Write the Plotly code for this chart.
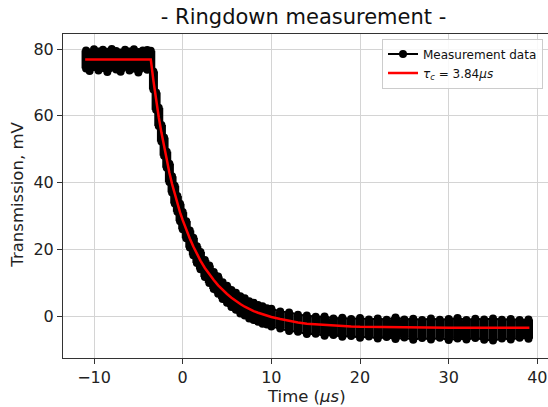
import plotly.graph_objects as go

# ---- data ----
# measurement band: upper / lower envelope of the noisy data (mV) vs time (us)
t_meas = [-10.9, -10.5, -10.0, -9.5, -9.0, -8.5, -8.0, -7.5, -7.0, -6.5, -6.0, -5.5,
          -5.0, -4.5, -4.0, -3.6, -3.3, -3.0, -2.7, -2.4, -2.1, -1.8, -1.5, -1.2,
          -0.9, -0.6, -0.3, 0.0, 0.4, 0.8, 1.2, 1.6, 2.0, 2.5, 3.0, 3.5, 4.0, 4.5,
          5.0, 5.5, 6.0, 6.5, 7.0, 7.5, 8.0, 8.5, 9.0, 9.5, 10, 11, 12, 13, 14, 15,
          16, 17, 18, 19, 20, 21, 22, 23, 24, 25, 26, 27, 28, 29, 30, 31, 32, 33,
          34, 35, 36, 37, 38, 39]
meas_upper = [79.6, 79.0, 79.9, 79.3, 79.8, 79.2, 80.0, 79.4, 79.0, 79.8, 79.3, 79.9,
              79.1, 79.6, 79.7, 79.5, 73.3, 67.0, 62.4, 57.3, 53.5, 49.3, 45.7, 41.9,
              39.1, 36.0, 33.7, 31.2, 28.5, 25.7, 23.5, 21.0, 19.3, 16.9, 15.2, 13.3,
              11.9, 10.2, 9.2, 7.9, 7.1, 6.0, 5.4, 4.5, 4.1, 3.4, 3.0, 2.4, 2.3, 1.5,
              1.2, 0.5, 0.3, -0.1, 0.0, -0.6, -0.4, -0.8, -0.5, -0.9, -0.6, -1.0, -0.3,
              -0.9, -0.7, -1.1, -0.6, -1.0, -0.8, -0.5, -1.1, -0.7, -0.9, -0.6, -1.0,
              -0.8, -1.1, -0.9]
meas_lower = [74.2, 73.4, 74.6, 73.6, 74.3, 73.1, 74.5, 73.9, 73.2, 74.7, 73.6, 74.2,
              73.0, 74.4, 73.8, 74.1, 67.9, 61.8, 57.0, 52.3, 48.1, 44.5, 40.2, 37.1,
              33.8, 31.3, 28.5, 26.1, 23.4, 20.6, 18.3, 16.0, 14.1, 11.8, 10.0, 8.2,
              6.8, 5.2, 4.1, 2.8, 2.0, 0.9, 0.3, -0.6, -1.1, -1.6, -2.2, -2.4, -3.0,
              -3.6, -4.4, -4.6, -5.3, -5.2, -5.8, -5.6, -6.1, -5.9, -6.4, -6.0, -6.6,
              -6.2, -6.8, -6.3, -7.0, -6.5, -6.9, -6.4, -7.1, -6.6, -6.9, -6.5, -7.0,
              -7.2, -6.6, -6.9, -6.4, -6.7]

# fitted ringdown curve (red)
t_fit = [-11.0, -3.6, -3.3, -3.0, -2.7, -2.4, -2.1, -1.8, -1.5, -1.2, -0.9, -0.6,
         -0.3, 0.0, 0.4, 0.8, 1.2, 1.6, 2.0, 2.5, 3.0, 3.5, 4.0, 4.5, 5.0, 5.5,
         6.0, 6.5, 7.0, 7.5, 8.0, 8.5, 9.0, 9.5, 10, 11, 12, 13, 14, 15, 16, 17,
         18, 19, 20, 22, 25, 30, 39.1]
y_fit = [76.9, 76.9, 70.5, 64.5, 59.6, 55.0, 50.8, 46.9, 43.0, 39.6, 36.5, 33.7,
         31.1, 28.8, 25.9, 23.3, 20.9, 18.7, 16.7, 14.5, 12.6, 10.9, 9.3, 7.9, 6.7,
         5.6, 4.6, 3.7, 2.9, 2.2, 1.6, 1.1, 0.6, 0.2, -0.2, -0.8, -1.4, -1.8, -2.2,
         -2.4, -2.6, -2.8, -2.9, -3.0, -3.1, -3.2, -3.35, -3.4, -3.4]

x_ticks = [-10, 0, 10, 20, 30, 40]
y_ticks = [0, 20, 40, 60, 80]

FONT = "DejaVu Sans"

# vertical strokes spanning the measured scatter at each sampled time
band_x, band_y = [], []
for t, lo, hi in zip(t_meas, meas_lower, meas_upper):
    band_x += [t, t, None]
    band_y += [lo, hi, None]

fig = go.Figure()
fig.add_trace(go.Scatter(
    x=band_x, y=band_y, mode="lines", connectgaps=False,
    line=dict(color="black", width=9), showlegend=False, hoverinfo="skip",
))
fig.add_trace(go.Scatter(
    x=t_meas, y=meas_upper, mode="lines+markers", name="Measurement data",
    line=dict(color="black", width=2), marker=dict(color="black", size=8),
))
fig.add_trace(go.Scatter(
    x=t_meas, y=meas_lower, mode="lines+markers", showlegend=False,
    line=dict(color="black", width=2), marker=dict(color="black", size=8),
))
fig.add_trace(go.Scatter(
    x=t_fit, y=y_fit, mode="lines", name="<i>τ<sub>c</sub></i> = 3.84<i>μs</i>",
    line=dict(color="red", width=2.5),
))

axis_common = dict(
    showline=True, linecolor="#333333", linewidth=1,
    ticks="outside", ticklen=5, tickwidth=1, tickcolor="#333333",
    showgrid=True, gridcolor="#d4d4d4", gridwidth=1,
    zeroline=False, automargin=False, ticklabeloverflow="allow",
    tickfont=dict(family=FONT, size=16, color="#222222"),
)

fig.update_layout(
    width=548, height=407,
    margin=dict(l=63, r=0, t=34, b=48.5, autoexpand=False),
    paper_bgcolor="white", plot_bgcolor="white",
    font=dict(family=FONT, color="#222222"),
    title=dict(text="- Ringdown measurement -", x=0.496, xref="paper",
               xanchor="center", y=0.958, yref="container", yanchor="middle",
               font=dict(family=FONT, size=21, color="#111111")),
    xaxis=dict(range=[-13.5, 41.2], tickvals=x_ticks, mirror=True, **axis_common),
    yaxis=dict(range=[-12.45, 84.5], tickvals=y_ticks, **axis_common),
    legend=dict(x=0.9897, y=0.986, xanchor="right", yanchor="top",
                traceorder="normal",
                bgcolor="rgba(255,255,255,0.85)", bordercolor="#cccccc",
                borderwidth=1, font=dict(family=FONT, size=12, color="#111111")),
    showlegend=True,
    hovermode=False,
    annotations=[
        dict(text="Time (<i>μs</i>)", xref="paper", yref="paper",
             x=0.503, y=-0.1186, xanchor="center", yanchor="middle",
             showarrow=False, font=dict(family=FONT, size=16.5, color="#222222")),
        dict(text="Transmission, mV", xref="paper", yref="paper",
             x=-0.0928, y=0.504, xanchor="center", yanchor="middle",
             textangle=-90, showarrow=False,
             font=dict(family=FONT, size=16.5, color="#222222")),
    ],
)

fig.write_html(
    "out.html",
    config={"displayModeBar": False, "staticPlot": True},
    post_script="document.body.style.margin='0';document.body.style.overflow='hidden';",
)
